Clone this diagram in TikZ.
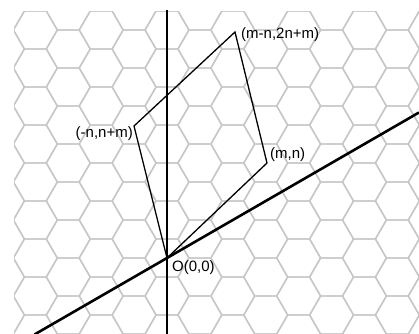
\documentclass[tikz,border=0pt]{standalone}
\usepackage{fontspec}
\setmainfont{Liberation Sans}
\begin{document}
\begin{tikzpicture}[x=1bp,y=-1bp,
  hexline/.style={draw=black!22,line width=1.4bp},
  axisline/.style={draw=black,line width=2.6bp},
  cellline/.style={draw=black,line width=1.3bp,line join=miter},
  lbl/.style={inner sep=0pt,font=\fontsize{15bp}{17bp}\selectfont}]
\useasboundingbox (0,0) rectangle (419,334);
% hexagonal grid
\begin{scope}
\clip (14,11) rectangle (419,334);
\foreach \k in {-5,...,8}{
  \foreach \j in {-3,...,7}{
    \pgfmathsetmacro{\cx}{167+\k*32.909}
    \pgfmathsetmacro{\cy}{258-\j*38-19*mod(\k+10,2)}
    \draw[hexline] (\cx,\cy) +(0:21.94) -- +(60:21.94) -- +(120:21.94) -- +(180:21.94) -- +(240:21.94) -- +(300:21.94) -- cycle;
  }
}
\end{scope}
% points
\coordinate (O) at (167,258);
\coordinate (A) at (267,163);
\coordinate (B) at (134,126);
\coordinate (C) at (235,32);
\coordinate (vtop) at (167,10);
\coordinate (vbot) at (167,334);
\coordinate (sl) at (34.5,334.5);
\coordinate (sr) at (419,112.5);
% axes
\draw[axisline] (vtop) -- (vbot);
\draw[axisline] (sl) -- (sr);
% parallelogram
\draw[cellline] (O) -- (A) -- (C) -- (B) -- cycle;
% labels
\node[lbl,anchor=west] (lC) at (241,35) {(m-n,2n+m)};
\node[lbl,anchor=east] (lB) at (133,134) {(-n,n+m)};
\node[lbl,anchor=west] (lA) at (270,155) {(m,n)};
\node[lbl,anchor=west] (lO) at (172,268) {O(0,0)};
\end{tikzpicture}
\end{document}
